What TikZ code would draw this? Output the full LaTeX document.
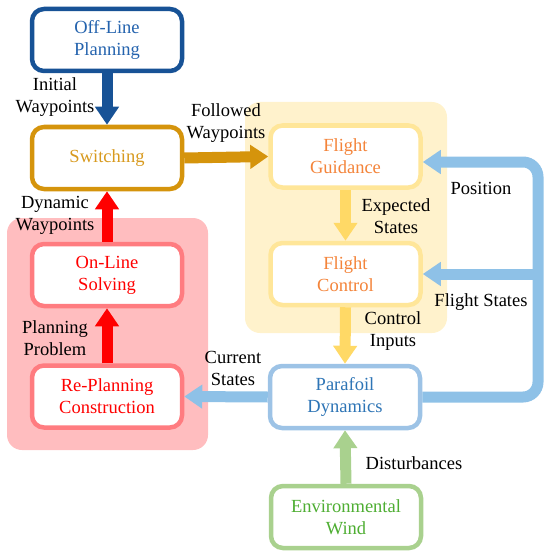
\documentclass[tikz,border=0pt]{standalone}
\usepackage{fontspec}
\setmainfont{Liberation Serif}
\newfontfamily\diagfont{Liberation Serif}
\usetikzlibrary{arrows.meta,calc}
\definecolor{offC}{HTML}{175296}
\definecolor{offT}{HTML}{2463AE}
\definecolor{swC}{HTML}{D5940C}
\definecolor{swT}{HTML}{D89A1E}
\definecolor{ylBg}{HTML}{FFF2CC}
\definecolor{ylB}{HTML}{FFE699}
\definecolor{ylA}{HTML}{FFD966}
\definecolor{orT}{HTML}{F4843A}
\definecolor{rdBg}{HTML}{FFBDBF}
\definecolor{rdB}{HTML}{FF7C80}
\definecolor{rdA}{HTML}{FF0000}
\definecolor{blB}{HTML}{9DC3E6}
\definecolor{blA}{HTML}{8EC1E7}
\definecolor{blT}{HTML}{2E75B6}
\definecolor{gnB}{HTML}{A9D18E}
\definecolor{gnT}{HTML}{4EAE32}
\begin{document}
\begin{tikzpicture}[x=1pt,y=-1pt,
  box/.style={draw, line width=4.5pt, rounded corners=12pt, fill=white,
    minimum width=150pt, minimum height=62pt, align=center,
    font=\diagfont\fontsize{18.5}{22}\selectfont, inner sep=0pt},
  lbl/.style={align=center, font=\diagfont\fontsize{18.5}{22}\selectfont, inner sep=0pt},
  fat/.style={line width=11pt, -{Triangle[width=23pt,length=18pt]}},
  bgbox/.style={rounded corners=15pt}]
\useasboundingbox (0,0) rectangle (550,559);
% backgrounds
\fill[ylBg, bgbox] (245,102) rectangle (447,333);
\fill[rdBg, bgbox] (7,218) rectangle (208,450);
% boxes
\node[box, draw=offC, text=offT] (off) at (107,40) {Off-Line\\Planning};
\node[box, draw=swC, text=swT] (sw) at (107,158) {Switching};
\node[box, draw=rdB, text=rdA] (onl) at (107,275) {On-Line\\Solving};
\node[box, draw=rdB, text=rdA] (rep) at (107,396.5) {Re-Planning\\Construction};
\node[box, draw=ylB, text=orT] (fg) at (345.5,156.5) {Flight\\Guidance};
\node[box, draw=ylB, text=orT] (fc) at (345.5,274) {Flight\\Control};
\node[box, draw=blB, text=blT] (pd) at (345,397) {Parafoil\\Dynamics};
\node[box, draw=gnB, text=gnT] (env) at (346,517) {Environmental\\Wind};
% arrows
\draw[fat, offC] (off.south) -- (sw.north);
\draw[fat, swC] (sw.east) -- (fg.west);
\draw[fat, rdA] (onl.north) -- (sw.south);
\draw[fat, rdA] (rep.north) -- (onl.south);
\draw[fat, ylA] (fg.south) -- (fc.north);
\draw[fat, ylA] (fc.south) -- (pd.north);
\draw[fat, gnB] (env.north) -- (pd.south);
\draw[fat, blA] (pd.west) -- (rep.east);
\coordinate (lb) at (538,397);
\coordinate (lt) at (538,162);
\coordinate (gin) at ($(fg.east)+(0,5.5)$);
\draw[fat, blA, rounded corners=15pt] (pd.east) -- (lb) -- (lt) -- (gin);
\draw[fat, blA] (lt |- fc.east) -- (fc.east);
% labels
\node[lbl] at (55,97) {Initial\\Waypoints};
\node[lbl] at (226,123) {Followed\\Waypoints};
\node[lbl] at (55,215) {Dynamic\\Waypoints};
\node[lbl] at (55,338) {Planning\\Problem};
\node[lbl] at (233,368) {Current\\States};
\node[lbl] at (396,216) {Expected\\States};
\node[lbl] at (481,188) {Position};
\node[lbl] at (481,302) {Flight States};
\node[lbl] at (393,331) {Control\\Inputs};
\node[lbl] at (414,463) {Disturbances};
\end{tikzpicture}
\end{document}
